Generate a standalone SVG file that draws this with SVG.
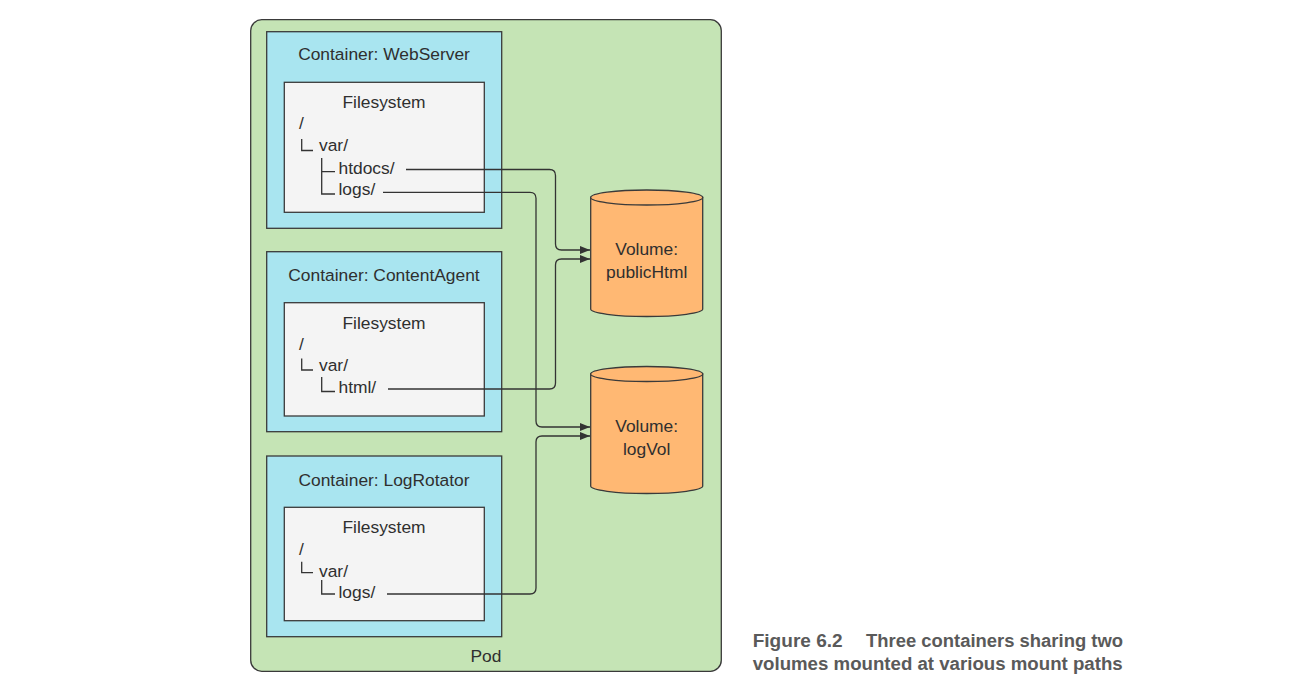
<svg xmlns="http://www.w3.org/2000/svg" width="1308" height="699" viewBox="0 0 1308 699">
<defs>
<style>
.pod{fill:#c5e4b5;stroke:#3a3a3a;stroke-width:1.3}
.ctr{fill:#a9e5f0;stroke:#3a3a3a;stroke-width:1.3}
.fs{fill:#f4f4f4;stroke:#3a3a3a;stroke-width:1.3}
.vol{fill:#ffb873;stroke:#3a3a3a;stroke-width:1.3}
.t{font-family:"Liberation Sans",Arial,sans-serif;font-size:17.4px;fill:#2f2f2f}
.c{text-anchor:middle}
.tree{fill:none;stroke:#333;stroke-width:1.3}
.conn{fill:none;stroke:#333;stroke-width:1.3;marker-end:url(#arr)}
.cap{font-family:"Liberation Sans",Arial,sans-serif;font-size:18px;font-weight:bold;fill:#5a5a5a}
</style>
<marker id="arr" viewBox="0 0 10 8" refX="10" refY="4" markerWidth="10" markerHeight="8" markerUnits="userSpaceOnUse" orient="auto">
<path d="M0,0 L10,4 L0,8 Z" fill="#333"/>
</marker>
</defs>
<g id="pod">
<rect class="pod" x="250.7" y="19.7" width="470.6" height="651.6" rx="11"/>
<text class="t" x="486" y="661.5" text-anchor="middle">Pod</text>
</g>
<g id="webserver">
<rect class="ctr" x="266.7" y="31.7" width="235" height="196.6"/>
<text class="t c" x="384" y="59.5">Container: WebServer</text>
<rect class="fs" x="284.3" y="82.3" width="200" height="130"/>
<text class="t c" x="384" y="108">Filesystem</text>
<text class="t" x="299" y="129">/</text>
<path class="tree" d="M301.7,139 V150.5 H313"/>
<text class="t" x="319" y="151">var/</text>
<path class="tree" d="M321.7,158 V194 H335 M321.7,171.7 H335"/>
<text class="t" x="338.5" y="174">htdocs/</text>
<text class="t" x="338.5" y="195">logs/</text>
</g>
<g id="contentagent">
<rect class="ctr" x="266.7" y="251.7" width="235" height="180"/>
<text class="t c" x="384" y="280.5">Container: ContentAgent</text>
<rect class="fs" x="284.3" y="302.7" width="200" height="113.3"/>
<text class="t c" x="384" y="328.5">Filesystem</text>
<text class="t" x="299" y="350">/</text>
<path class="tree" d="M301.7,358.5 V370 H313"/>
<text class="t" x="319" y="371">var/</text>
<path class="tree" d="M321.7,377 V391.5 H335"/>
<text class="t" x="338.5" y="393">html/</text>
</g>
<g id="logrotator">
<rect class="ctr" x="266.7" y="456" width="235" height="180.7"/>
<text class="t c" x="384" y="486">Container: LogRotator</text>
<rect class="fs" x="284.3" y="507.3" width="200" height="113.4"/>
<text class="t c" x="384" y="532.7">Filesystem</text>
<text class="t" x="299" y="555">/</text>
<path class="tree" d="M301.7,561.7 V572.7 H313"/>
<text class="t" x="319" y="576.7">var/</text>
<path class="tree" d="M321.7,580 V594 H335"/>
<text class="t" x="338.5" y="598">logs/</text>
</g>
<g id="publicHtml">
<path class="vol" d="M590.7,197.5 V309 A56,7.5 0 0 0 702.7,309 V197.5 Z"/>
<ellipse class="vol" cx="646.7" cy="197.5" rx="56" ry="7.5"/>
<text class="t c" x="646.7" y="255">Volume:</text>
<text class="t c" x="646.7" y="278">publicHtml</text>
</g>
<g id="logVol">
<path class="vol" d="M590.7,374 V486 A56,7.5 0 0 0 702.7,486 V374 Z"/>
<ellipse class="vol" cx="646.7" cy="374" rx="56" ry="7.5"/>
<text class="t c" x="646.7" y="432">Volume:</text>
<text class="t c" x="646.7" y="455">logVol</text>
</g>
<g id="connectors">
<path class="conn" d="M406,169.5 H549.5 Q555.5,169.5 555.5,175.5 V244 Q555.5,250 561.5,250 H590"/>
<path class="conn" d="M388,389 H549.5 Q555.5,389 555.5,383 V265 Q555.5,259 561.5,259 H590"/>
<path class="conn" d="M383,192.3 H530 Q536,192.3 536,198.3 V421 Q536,427 542,427 H590"/>
<path class="conn" d="M387,594 H530 Q536,594 536,588 V442 Q536,436 542,436 H590"/>
</g>
<g id="caption">
<text class="cap" x="752.7" y="646.5" textLength="90" lengthAdjust="spacingAndGlyphs">Figure 6.2</text>
<text class="cap" x="866" y="646.5" textLength="257" lengthAdjust="spacingAndGlyphs">Three containers sharing two</text>
<text class="cap" x="752.7" y="670" textLength="370" lengthAdjust="spacingAndGlyphs">volumes mounted at various mount paths</text>
</g>
</svg>
